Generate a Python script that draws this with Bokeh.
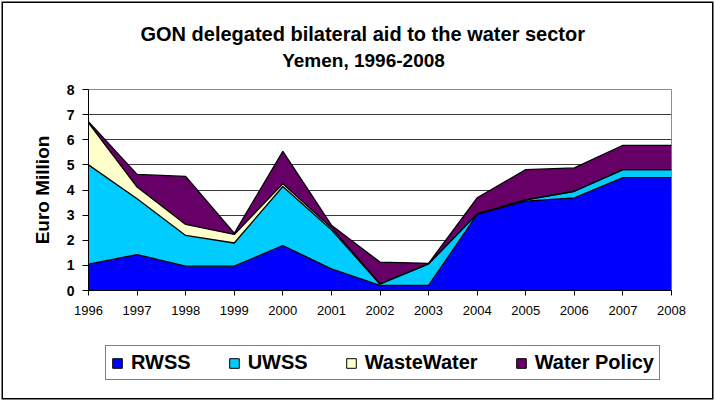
from bokeh.plotting import figure
from bokeh.layouts import column
from bokeh.models import Range1d, FixedTicker, Legend, LegendItem, Label, ColumnDataSource
from bokeh.embed import file_html
from bokeh.resources import INLINE

# GON delegated bilateral aid to the Yemeni water sector (Euro million)
years = [1996, 1997, 1998, 1999, 2000, 2001, 2002, 2003, 2004, 2005, 2006, 2007, 2008]
rwss = [1.05, 1.43, 0.97, 0.97, 1.79, 0.86, 0.20, 0.20, 3.03, 3.56, 3.69, 4.49, 4.49]
uwss = [3.95, 2.22, 1.22, 0.92, 2.35, 1.56, 0.05, 0.86, 0.02, 0.05, 0.26, 0.32, 0.32]
waste_water = [1.67, 0.47, 0.44, 0.34, 0.11, 0.08, 0.02, 0.00, 0.00, 0.00, 0.00, 0.00, 0.00]
water_policy = [0.05, 0.50, 1.91, 0.05, 1.29, 0.10, 0.86, 0.02, 0.64, 1.20, 0.93, 0.97, 0.97]

series = ["RWSS", "UWSS", "WasteWater", "Water Policy"]
colors = ["#0000FF", "#00CCFF", "#FFFFCC", "#660066"]
y_ticks = [0, 1, 2, 3, 4, 5, 6, 7, 8]
title_lines = ["GON delegated bilateral aid to the  water sector", "Yemen, 1996-2008"]

FONT = "Liberation Sans"

data = {
    "year": years,
    "RWSS": rwss,
    "UWSS": uwss,
    "WasteWater": waste_water,
    "Water Policy": water_policy,
}
source = ColumnDataSource(data=data)


def strip(height):
    """A bare figure used to hold text or the legend above/below the chart."""
    f = figure(width=715, height=height, output_backend="svg", toolbar_location=None,
               x_range=Range1d(0, 1), y_range=Range1d(0, 1),
               x_axis_location=None, y_axis_location=None, min_border=0)
    f.grid.visible = False
    f.outline_line_color = None
    f.background_fill_alpha = 0
    f.border_fill_alpha = 0
    return f


# ---- title strip --------------------------------------------------------------
top = strip(75)
for txt, xx, yy, size in [(title_lines[0], 277, 42, "20px"),
                          (title_lines[1], 275, 15, "19px")]:
    top.add_layout(Label(x=xx, y=yy, x_units="screen", y_units="screen", text=txt,
                         text_align="center", text_baseline="middle",
                         text_font=FONT, text_font_style="bold",
                         text_font_size=size, text_color="black"))

# ---- main chart -------------------------------------------------------------
p = figure(width=715, height=255, output_backend="svg", toolbar_location=None,
           x_range=Range1d(1996, 2008), y_range=Range1d(0, 8),
           min_border_left=88, min_border_right=44,
           min_border_top=14, min_border_bottom=40)
p.background_fill_color = "white"
p.border_fill_alpha = 0
p.outline_line_color = "#8c8c8c"
p.outline_line_width = 1

# stacked areas with black boundary lines
p.varea_stack(series, x="year", color=colors, source=source)
p.vline_stack(series, x="year", line_color="black", line_width=1.3, source=source)

# grid
p.xgrid.visible = False
p.ygrid.ticker = FixedTicker(ticks=y_ticks)
p.ygrid.grid_line_color = "#3a3a3a"
p.ygrid.grid_line_width = 1
p.ygrid.level = "underlay"

# axes
p.xaxis.ticker = FixedTicker(ticks=years)
p.xaxis.major_label_text_font = FONT
p.xaxis.major_label_text_font_size = "13px"
p.xaxis.major_label_text_color = "black"
p.xaxis.major_tick_out = 5
p.xaxis.major_tick_in = 0
p.xaxis.minor_tick_line_color = None
p.xaxis.major_label_standoff = 10
p.xaxis.axis_line_color = "black"

p.yaxis.ticker = FixedTicker(ticks=y_ticks)
p.yaxis.major_label_text_font = FONT
p.yaxis.major_label_text_font_style = "bold"
p.yaxis.major_label_text_font_size = "14px"
p.yaxis.major_label_text_color = "black"
p.yaxis.major_tick_out = 6
p.yaxis.major_tick_in = 0
p.yaxis.minor_tick_line_color = None
p.yaxis.major_label_standoff = 8
p.yaxis.axis_line_color = "black"
p.yaxis.axis_label = "Euro Million"
p.yaxis.axis_label_text_font = FONT
p.yaxis.axis_label_text_font_style = "bold"
p.yaxis.axis_label_text_font_size = "19px"
p.yaxis.axis_label_text_color = "black"
p.yaxis.axis_label_standoff = 11

# ---- legend strip -----------------------------------------------------------
leg = strip(71)
leg_source = ColumnDataSource(data=data)
items = []
for name, c in zip(series, colors):
    # series bars lie outside this strip's ranges; only their swatches show
    r = leg.quad(left="year", right="year", bottom=0, top=name, source=leg_source,
                 fill_color=c, line_color="black", line_width=1)
    items.append(LegendItem(label=name, renderers=[r]))

legend = Legend(items=items, orientation="horizontal", location=(17, 21),
                glyph_width=12, glyph_height=12, label_standoff=8, spacing=37,
                padding=5, margin=0, label_height=12,
                label_text_font=FONT, label_text_font_style="bold",
                label_text_font_size="20px", label_text_color="black",
                border_line_color="black", border_line_width=1,
                background_fill_color="white", background_fill_alpha=1)
leg.add_layout(legend)

layout = column(top, p, leg, spacing=0)
# thin black frame around the whole chart
layout.styles = {"background-color": "white",
                 "box-shadow": "inset 0 0 0 1.5px white, inset 0 0 0 3px black"}

open("out.html", "w").write(file_html(layout, INLINE))
